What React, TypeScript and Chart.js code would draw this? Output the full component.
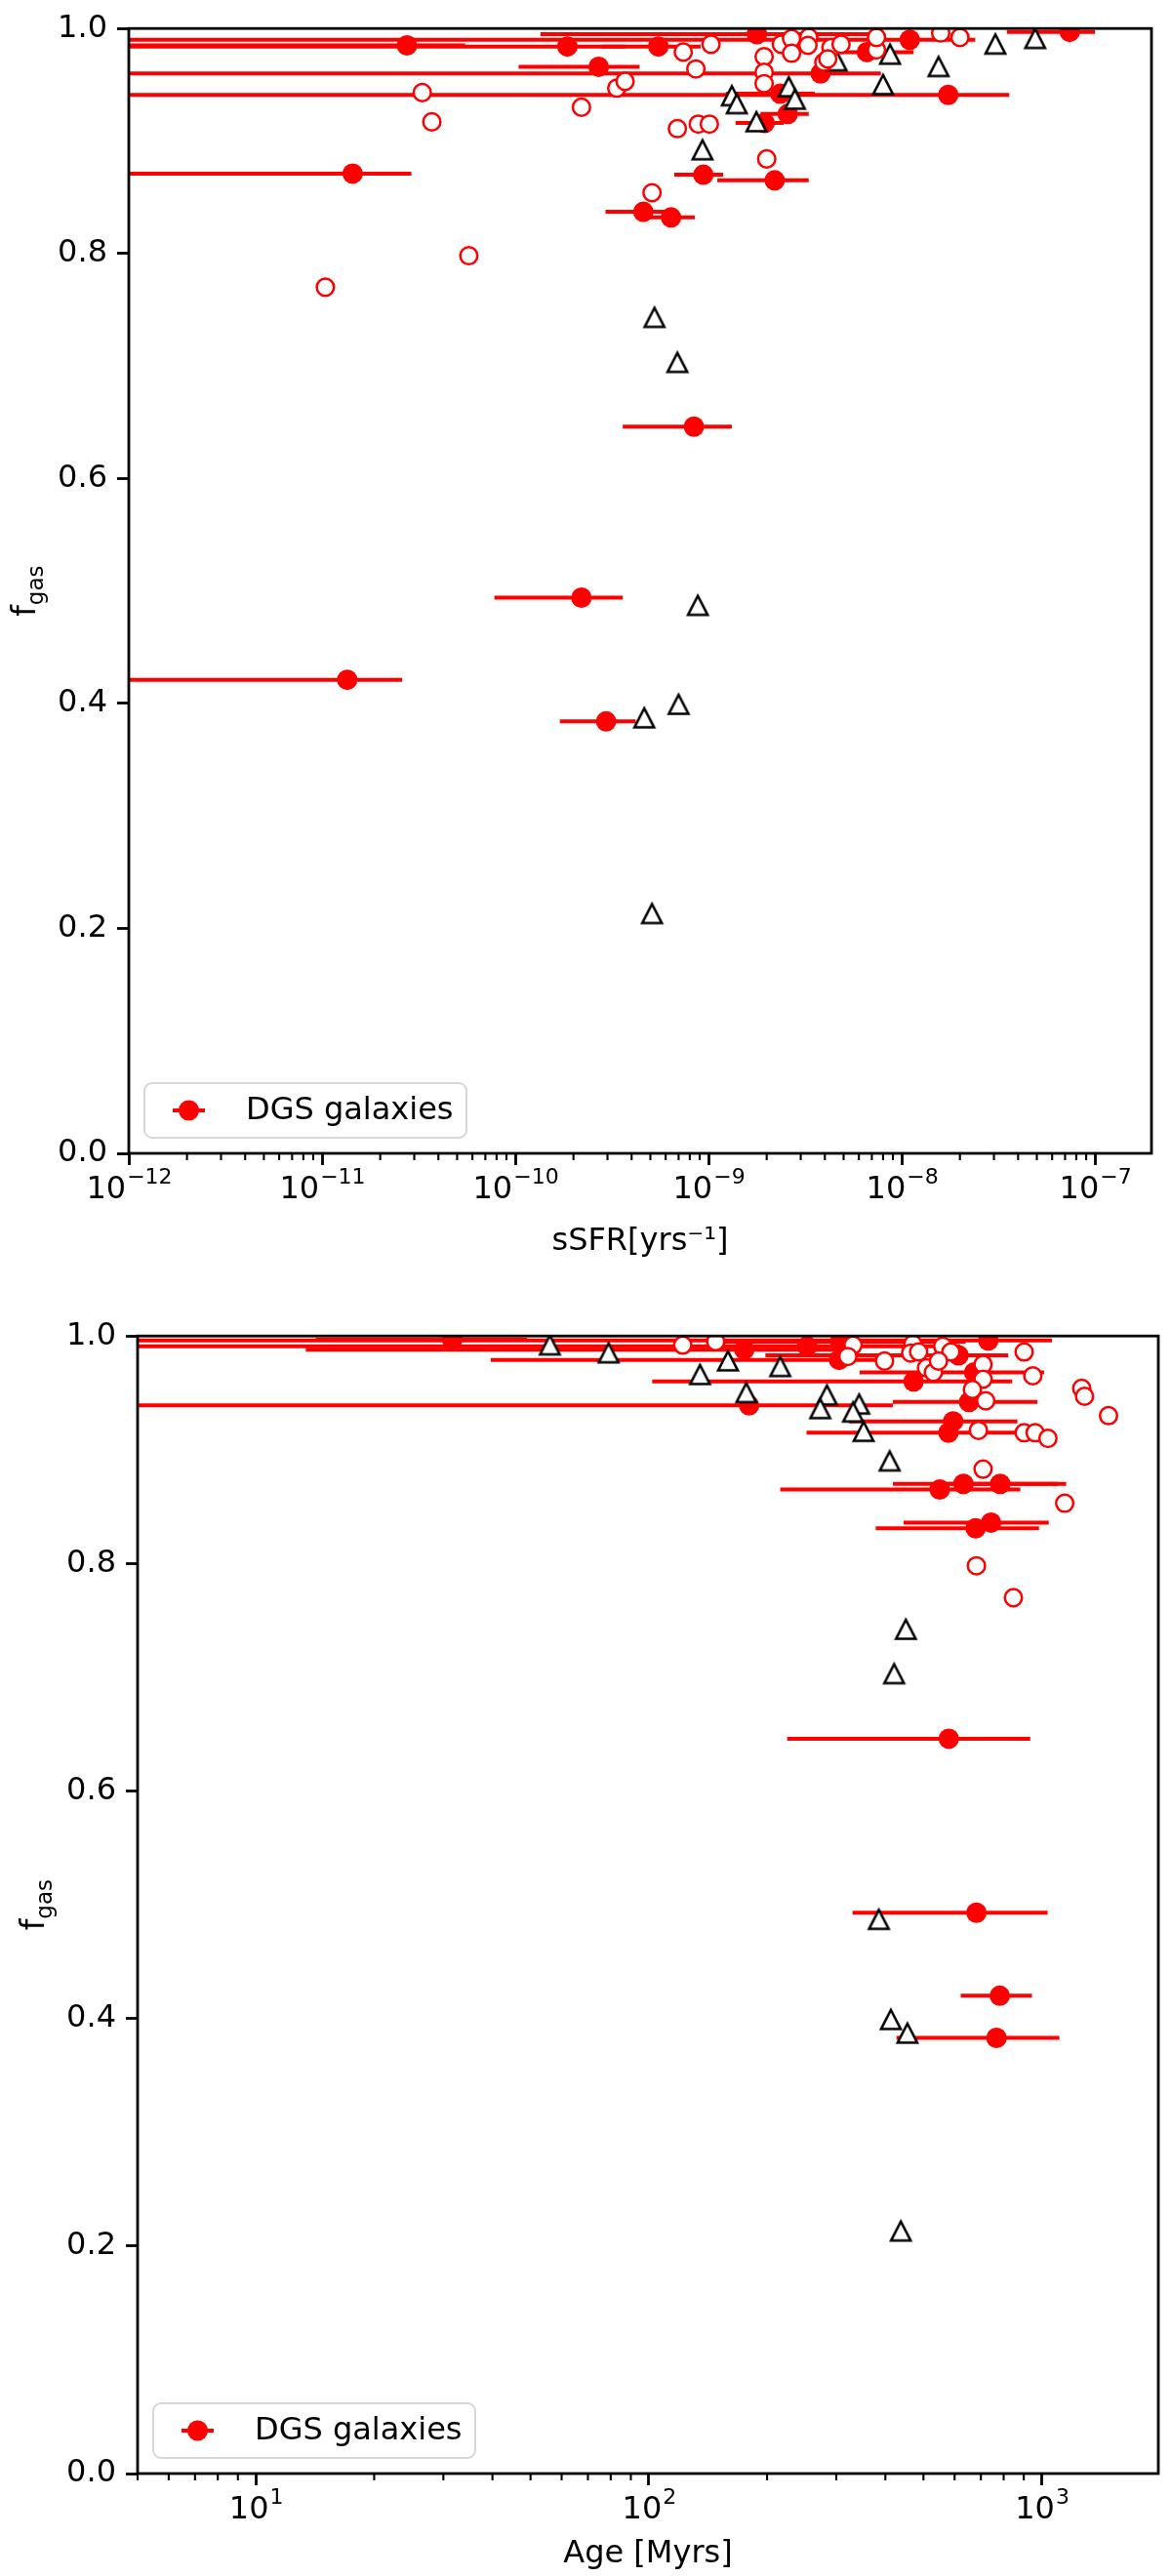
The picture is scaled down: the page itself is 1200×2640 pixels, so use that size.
import { Chart, registerables } from "chart.js";
import React, { useEffect, useRef } from "react";

Chart.register(...registerables);

const FONT = "DejaVu Sans";
const RED = "#ff0000";

// ---- top panel: f_gas vs sSFR ----
const ssfrMin = 1e-12;
const ssfrMax = 1.96e-7;
const ssfrTicks = [1e-12, 1e-11, 1e-10, 1e-9, 1e-8, 1e-7];
const ssfrTickExps = ["−12", "−11", "−10", "−9", "−8", "−7"];

// DGS galaxies (filled, with x error bars)
const dgsSsfr = [2.75e-11, 1.86e-10, 5.5e-10, 2.7e-10, 1.78e-9, 1.1e-8, 7.4e-8, 3.8e-9, 1.74e-8, 6.6e-9, 2.35e-9, 2.57e-9, 1.95e-9, 9.4e-10, 2.2e-9, 4.6e-10, 6.4e-10, 1.44e-11, 8.4e-10, 2.2e-10, 1.35e-11, 2.95e-10];
const dgsSsfrLo = [1e-13, 1e-13, 2.8e-10, 1.04e-10, 1.35e-10, 1e-13, 3.5e-8, 1e-13, 1e-13, 4.3e-9, 1.23e-9, 1.86e-9, 1.38e-9, 6.65e-10, 1.11e-9, 2.93e-10, 4.66e-10, 1e-13, 3.6e-10, 7.8e-11, 1e-13, 1.7e-10];
const dgsSsfrHi = [5.5e-11, 3.7e-10, 9.1e-10, 4.4e-10, 7.9e-9, 2.4e-8, 1.0e-7, 7.8e-9, 3.6e-8, 1.15e-8, 3.55e-9, 3.3e-9, 2.45e-9, 1.19e-9, 3.3e-9, 6.26e-10, 8.5e-10, 2.9e-11, 1.32e-9, 3.6e-10, 2.6e-11, 4.2e-10];
const dgsFgasSsfr = [0.985, 0.984, 0.984, 0.966, 0.995, 0.99, 0.997, 0.96, 0.941, 0.979, 0.942, 0.924, 0.916, 0.87, 0.865, 0.837, 0.832, 0.871, 0.646, 0.494, 0.421, 0.384];

// open red circles
const openSsfr = [1.04e-11, 3.3e-11, 3.7e-11, 5.75e-11, 1.03e-9, 7.4e-10, 8.6e-10, 2.2e-10, 3.35e-10, 3.7e-10, 6.9e-10, 8.85e-10, 1.01e-9, 2.0e-9, 5.1e-10, 1.94e-9, 1.94e-9, 1.94e-9, 2.38e-9, 2.69e-9, 3.3e-9, 3.27e-9, 2.69e-9, 4.3e-9, 4.85e-9, 3.95e-9, 4.14e-9, 7.4e-9, 7.4e-9, 1.59e-8, 2.0e-8];
const openFgasSsfr = [0.77, 0.943, 0.917, 0.798, 0.986, 0.979, 0.964, 0.93, 0.947, 0.953, 0.911, 0.915, 0.915, 0.884, 0.854, 0.975, 0.961, 0.951, 0.986, 0.991, 0.992, 0.985, 0.978, 0.983, 0.986, 0.97, 0.973, 0.981, 0.992, 0.996, 0.992];

// black open triangles
const triSsfr = [3.05e-8, 4.9e-8, 1.55e-8, 8.7e-9, 8.0e-9, 4.6e-9, 2.6e-9, 2.8e-9, 1.32e-9, 1.4e-9, 1.77e-9, 9.3e-10, 5.25e-10, 6.9e-10, 8.8e-10, 7.0e-10, 4.65e-10, 5.1e-10];
const triFgasSsfr = [0.986, 0.991, 0.966, 0.977, 0.95, 0.971, 0.948, 0.937, 0.94, 0.933, 0.917, 0.892, 0.743, 0.703, 0.487, 0.399, 0.387, 0.213];

// ---- bottom panel: f_gas vs Age ----
const ageMin = 5;
const ageMax = 1980;
const ageTicks = [10, 100, 1000];
const ageTickExps = ["1", "2", "3"];

const dgsAge = [31.6, 731, 307, 253, 175, 305, 614, 472, 180, 653, 595, 579, 550, 632, 784, 673, 743, 679, 580, 682, 782, 767];
const dgsAgeLo = [14.2, 1, 150, 1, 13.4, 39.6, 198, 102, 1, 418, 323, 252, 216, 418, 560, 344, 445, 378, 225, 330, 622, 427];
const dgsAgeHi = [49, 1062, 640, 620, 330, 398, 822, 841, 418, 975, 867, 862, 882, 1154, 1100, 1014, 1042, 984, 935, 1035, 944, 1109];
const dgsFgasAge = [0.997, 0.996, 0.995, 0.991, 0.988, 0.979, 0.983, 0.96, 0.939, 0.942, 0.925, 0.915, 0.865, 0.87, 0.87, 0.968, 0.836, 0.831, 0.646, 0.493, 0.42, 0.383];

const openAge = [122, 148, 331, 321, 398, 470, 464, 486, 560, 587, 509, 530, 546, 709, 709, 666, 720, 902, 949, 1264, 1285, 1479, 690, 902, 962, 1037, 709, 1144, 682, 847];
const openFgasAge = [0.992, 0.995, 0.992, 0.982, 0.978, 0.993, 0.985, 0.986, 0.991, 0.986, 0.972, 0.968, 0.978, 0.975, 0.962, 0.953, 0.943, 0.986, 0.965, 0.954, 0.947, 0.93, 0.917, 0.915, 0.915, 0.91, 0.883, 0.853, 0.798, 0.77];

const triAge = [56, 79, 159, 135, 216, 177, 284, 273, 343, 331, 352, 410, 451, 421, 385, 413, 455, 438];
const triFgasAge = [0.992, 0.985, 0.978, 0.966, 0.973, 0.95, 0.948, 0.936, 0.94, 0.933, 0.916, 0.89, 0.742, 0.703, 0.487, 0.399, 0.387, 0.213];

const fgasTicks = [0, 0.2, 0.4, 0.6, 0.8, 1.0];
const legendLabel = "DGS galaxies";

function minorValues(min: number, max: number) {
  const out: number[] = [];
  for (let k = Math.floor(Math.log10(min)); k <= Math.ceil(Math.log10(max)); k++) {
    for (let m = 2; m <= 9; m++) {
      const v = m * Math.pow(10, k);
      if (v >= min * 0.9999 && v <= max) out.push(v);
    }
  }
  return out;
}

function triangleMarker() {
  const c = document.createElement("canvas");
  c.width = 28;
  c.height = 28;
  const g = c.getContext("2d")!;
  g.beginPath();
  g.moveTo(14, 4);
  g.lineTo(4, 23.5);
  g.lineTo(24, 23.5);
  g.closePath();
  g.fillStyle = "white";
  g.fill();
  g.lineWidth = 2.6;
  g.strokeStyle = "black";
  g.stroke();
  return c;
}

const errorBars = {
  id: "errorBars",
  beforeDatasetsDraw(chart: any) {
    const { ctx, chartArea, scales } = chart;
    ctx.save();
    ctx.beginPath();
    ctx.rect(chartArea.left, chartArea.top, chartArea.right - chartArea.left, chartArea.bottom - chartArea.top);
    ctx.clip();
    ctx.strokeStyle = RED;
    ctx.lineWidth = 4;
    chart.data.datasets.forEach((ds: any) => {
      if (!ds.errorBars) return;
      ds.data.forEach((p: any) => {
        const y = scales.y.getPixelForValue(p.y);
        const x0 = Math.max(scales.x.getPixelForValue(p.lo), chartArea.left - 5);
        const x1 = Math.min(scales.x.getPixelForValue(p.hi), chartArea.right + 5);
        ctx.beginPath();
        ctx.moveTo(x0, y);
        ctx.lineTo(x1, y);
        ctx.stroke();
      });
    });
    ctx.restore();
  },
};

// box around the axes, minor log ticks and the 10^n tick labels
const frame = {
  id: "frame",
  afterDraw(chart: any, _args: any, opts: any) {
    const { ctx, chartArea, scales } = chart;
    ctx.save();
    ctx.strokeStyle = "black";
    ctx.lineWidth = 2.1;
    (opts.minor || []).forEach((v: number) => {
      const px = scales.x.getPixelForValue(v);
      if (px < chartArea.left - 0.5 || px > chartArea.right + 0.5) return;
      ctx.beginPath();
      ctx.moveTo(px, chartArea.bottom);
      ctx.lineTo(px, chartArea.bottom + 7);
      ctx.stroke();
    });
    ctx.lineWidth = 2.8;
    ctx.strokeRect(chartArea.left, chartArea.top, chartArea.right - chartArea.left, chartArea.bottom - chartArea.top);

    ctx.fillStyle = "black";
    ctx.textBaseline = "alphabetic";
    ctx.textAlign = "left";
    const base = chartArea.bottom + 46;
    (opts.ticks || []).forEach((v: number, i: number) => {
      const exp = opts.exps[i];
      ctx.font = `32px "${FONT}"`;
      const w10 = ctx.measureText("10").width;
      ctx.font = `22px "${FONT}"`;
      const we = ctx.measureText(exp).width;
      const px = scales.x.getPixelForValue(v);
      const x0 = px - (w10 + we) / 2;
      ctx.font = `32px "${FONT}"`;
      ctx.fillText("10", x0, base);
      ctx.font = `22px "${FONT}"`;
      ctx.fillText(exp, x0 + w10 + 1, base - 15);
    });
    ctx.restore();
  },
};

const boxLegend = {
  id: "boxLegend",
  afterDraw(chart: any, _args: any, opts: any) {
    const { ctx, chartArea } = chart;
    const w = 330;
    const h = 56;
    const x0 = chartArea.left + 16;
    const y0 = chartArea.bottom - 16 - h;
    ctx.save();
    ctx.beginPath();
    ctx.roundRect(x0, y0, w, h, 8);
    ctx.fillStyle = "rgba(255,255,255,0.8)";
    ctx.fill();
    ctx.strokeStyle = "#d6d6d6";
    ctx.lineWidth = 2;
    ctx.stroke();
    const cy = y0 + h / 2;
    ctx.strokeStyle = RED;
    ctx.lineWidth = 4;
    ctx.beginPath();
    ctx.moveTo(x0 + 29, cy);
    ctx.lineTo(x0 + 62, cy);
    ctx.stroke();
    ctx.fillStyle = RED;
    ctx.beginPath();
    ctx.arc(x0 + 45.5, cy, 10.5, 0, Math.PI * 2);
    ctx.fill();
    ctx.fillStyle = "black";
    ctx.font = `32px "${FONT}"`;
    ctx.textBaseline = "middle";
    ctx.fillText(opts.text, x0 + 104, cy + 1);
    ctx.restore();
  },
};

const yTitle = {
  id: "yTitle",
  afterDraw(chart: any, _args: any, opts: any) {
    const { ctx, chartArea } = chart;
    const cy = (chartArea.top + chartArea.bottom) / 2;
    const bx = chartArea.left - opts.offset;
    ctx.save();
    ctx.translate(bx, cy);
    ctx.rotate(-Math.PI / 2);
    ctx.fillStyle = "black";
    ctx.textBaseline = "alphabetic";
    ctx.font = `33px "${FONT}"`;
    const wf = ctx.measureText("f").width;
    ctx.font = `23px "${FONT}"`;
    const wg = ctx.measureText("gas").width;
    const start = -(wf + wg) / 2;
    ctx.font = `33px "${FONT}"`;
    ctx.fillText("f", start, 0);
    ctx.font = `23px "${FONT}"`;
    ctx.fillText("gas", start + wf, 8);
    ctx.restore();
  },
};

interface PanelProps {
  xs: number[][];
  ys: number[][];
  lo: number[];
  hi: number[];
  xMin: number;
  xMax: number;
  xTicks: number[];
  xTickExps: string[];
  xTitle: string;
  titlePad: number;
  height: number;
  padTop: number;
  padRight: number;
  yWidth: number;
  xHeight: number;
}

function Panel(props: PanelProps) {
  const canvasRef = useRef<HTMLCanvasElement | null>(null);

  useEffect(() => {
    if (!canvasRef.current) return;
    const [openX, triX, dgsX] = props.xs;
    const [openY, triY, dgsY] = props.ys;
    const tickFont = { family: FONT, size: 32 };

    const chart = new Chart(canvasRef.current, {
      type: "scatter",
      data: {
        datasets: [
          {
            label: "open",
            data: openX.map((x, i) => ({ x, y: openY[i] })),
            pointStyle: "circle",
            pointRadius: 8.8,
            pointHoverRadius: 8.8,
            backgroundColor: "white",
            borderColor: RED,
            borderWidth: 2.5,
            clip: 0,
          },
          {
            label: "triangles",
            data: triX.map((x, i) => ({ x, y: triY[i] })),
            pointStyle: triangleMarker(),
            pointRadius: 12,
            clip: 0,
          },
          {
            label: legendLabel,
            data: dgsX.map((x, i) => ({ x, y: dgsY[i], lo: props.lo[i], hi: props.hi[i] })),
            errorBars: true,
            pointStyle: "circle",
            pointRadius: 10.5,
            pointHoverRadius: 10.5,
            backgroundColor: RED,
            borderColor: RED,
            borderWidth: 0,
            clip: 0,
          } as any,
        ],
      },
      options: {
        animation: false,
        responsive: false,
        devicePixelRatio: 1,
        events: [],
        layout: { padding: { top: props.padTop, right: props.padRight, left: 0, bottom: 0 } },
        scales: {
          x: {
            type: "logarithmic",
            min: props.xMin,
            max: props.xMax,
            afterBuildTicks: (scale: any) => {
              scale.ticks = props.xTicks.map((v) => ({ value: v }));
            },
            afterFit: (scale: any) => {
              scale.height = props.xHeight;
            },
            ticks: {
              autoSkip: false,
              maxRotation: 0,
              minRotation: 0,
              padding: 4,
              color: "black",
              font: tickFont,
              // labels with raised exponents are drawn by the frame plugin
              callback: () => "",
            },
            grid: { drawOnChartArea: false, drawTicks: true, tickLength: 12, tickWidth: 2.8, tickColor: "black" },
            border: { display: false },
            title: {
              display: true,
              text: props.xTitle,
              color: "black",
              font: { family: FONT, size: 32 },
              padding: { top: 0, bottom: props.titlePad },
            },
          },
          y: {
            type: "linear",
            min: 0,
            max: 1,
            afterBuildTicks: (scale: any) => {
              scale.ticks = fgasTicks.map((v) => ({ value: v }));
            },
            afterFit: (scale: any) => {
              scale.width = props.yWidth;
            },
            ticks: {
              padding: 10,
              color: "black",
              font: tickFont,
              callback: (v: any) => Number(v).toFixed(1),
            },
            grid: { drawOnChartArea: false, drawTicks: true, tickLength: 12, tickWidth: 2.8, tickColor: "black" },
            border: { display: false },
          },
        },
        plugins: {
          legend: { display: false },
          tooltip: { enabled: false },
          frame: { minor: minorValues(props.xMin, props.xMax), ticks: props.xTicks, exps: props.xTickExps },
          boxLegend: { text: legendLabel },
          yTitle: { offset: 96 },
        } as any,
      },
      plugins: [errorBars, frame, boxLegend, yTitle],
    });

    return () => {
      chart.destroy();
    };
  }, []);

  return <canvas ref={canvasRef} width={1200} height={props.height} style={{ display: "block" }} />;
}

export default function App() {
  useEffect(() => {
    document.body.style.margin = "0";
    document.body.style.background = "white";
  }, []);

  return (
    <div style={{ width: 1200, background: "white" }}>
      <Panel
        xs={[openSsfr, triSsfr, dgsSsfr]}
        ys={[openFgasSsfr, triFgasSsfr, dgsFgasSsfr]}
        lo={dgsSsfrLo}
        hi={dgsSsfrHi}
        xMin={ssfrMin}
        xMax={ssfrMax}
        xTicks={ssfrTicks}
        xTickExps={ssfrTickExps}
        xTitle="sSFR[yrs⁻¹]"
        titlePad={48}
        height={1340}
        padTop={13}
        padRight={20}
        yWidth={132}
        xHeight={158}
      />
      <Panel
        xs={[openAge, triAge, dgsAge]}
        ys={[openFgasAge, triFgasAge, dgsFgasAge]}
        lo={dgsAgeLo}
        hi={dgsAgeHi}
        xMin={ageMin}
        xMax={ageMax}
        xTicks={ageTicks}
        xTickExps={ageTickExps}
        xTitle="Age [Myrs]"
        titlePad={3}
        height={1300}
        padTop={29}
        padRight={13}
        yWidth={141}
        xHeight={105}
      />
    </div>
  );
}
